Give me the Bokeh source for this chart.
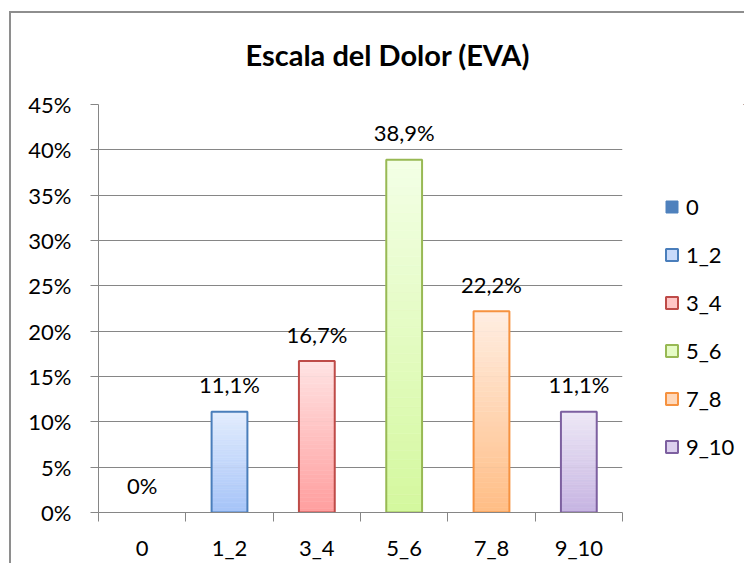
from bokeh.plotting import figure
from bokeh.layouts import row
from bokeh.models import (FixedTicker, NumeralTickFormatter, Legend, LegendItem, Range1d)
from bokeh.embed import file_html
from bokeh.resources import INLINE
from bokeh.core.properties import value

# ---- data ----
title = "Escala del Dolor (EVA)"
categories = ["0", "1_2", "3_4", "5_6", "7_8", "9_10"]
values = [0.0, 0.111, 0.167, 0.389, 0.222, 0.111]
y_ticks = [0.0, 0.05, 0.10, 0.15, 0.20, 0.25, 0.30, 0.35, 0.40, 0.45]

# ---- styles ----
FONT = "Lato"
GREY = "#868686"
border_colors = ["#4F81BD", "#4A7EBB", "#BE4B48", "#98B954", "#F69240", "#7D60A0"]
top_colors = ["#4F81BD", "#E3EDFD", "#FFE3E3", "#F3FFE6", "#FFEEE2", "#EEE8F6"]
bottom_colors = ["#4F81BD", "#A5C3F8", "#FF9E9E", "#D4F89E", "#FFBD85", "#C6B4E2"]
legend_fill = ["#4F81BD", "#C9DBFB", "#FFC6C6", "#E6FCC6", "#FFD8BA", "#DCD0EE"]
BAR_W = 0.41
FS = "22px"
FRAME_LINE = "#8E8E8E"


def hex2rgb(h):
    h = h.lstrip("#")
    return tuple(int(h[i:i + 2], 16) for i in (0, 2, 4))


def mix(c1, c2, t):
    a, b = hex2rgb(c1), hex2rgb(c2)
    return "#%02x%02x%02x" % tuple(round(a[i] + (b[i] - a[i]) * t) for i in range(3))


n_cat = len(categories)
centers = [i + 0.5 for i in range(n_cat)]

P_W, H = 626, 563
p = figure(width=P_W, height=H, x_range=Range1d(0, n_cat), y_range=Range1d(0, 0.45),
           output_backend="svg", toolbar_location=None,
           min_border_left=98, min_border_right=4, min_border_top=104, min_border_bottom=50)
p.styles = {"background": f"linear-gradient({FRAME_LINE},{FRAME_LINE}) 9px 11px / 2px 100% no-repeat, "
                          f"linear-gradient({FRAME_LINE},{FRAME_LINE}) 9px 11px / 100% 2px no-repeat, white"}
p.outline_line_color = None
p.background_fill_color = "white"
p.border_fill_alpha = 0

# title
p.title.text = title
p.title.align = "left"
p.title.offset = 147
p.title.standoff = 66
p.title.text_font = FONT
p.title.text_font_style = "bold"
p.title.text_font_size = "29px"
p.title.text_color = "black"

# gradient bars (strips)
N = 40
xs, bots, tops, cols = [], [], [], []
for i, v in enumerate(values):
    if v <= 0:
        continue
    for k in range(N):
        t = (k + 0.5) / N
        xs.append(centers[i])
        bots.append(v * k / N)
        tops.append(v * (k + 1) / N)
        cols.append(mix(bottom_colors[i], top_colors[i], t))
p.vbar(x=xs, bottom=bots, top=tops, width=BAR_W, fill_color=cols, line_color=cols, line_width=0.6)

# outlines
p.vbar(x=centers, top=values, width=BAR_W, fill_color=None, line_color=border_colors,
       line_width=2, line_alpha=[1 if v > 0 else 0 for v in values])

# data labels
labels = [("%.1f%%" % (v * 100)).replace(".", ",") if v > 0 else "0%" for v in values]
p.text(x=centers, y=values, text=labels, text_align="center", text_baseline="middle",
       y_offset=-27, text_font=value(FONT), text_font_size=FS, text_color="black")

# axes
p.xaxis.ticker = FixedTicker(ticks=centers, minor_ticks=list(range(n_cat + 1)))
p.xaxis.major_label_overrides = {c: lab for c, lab in zip(centers, categories)}
p.xaxis.major_tick_out = 0
p.xaxis.major_tick_in = 0
p.xaxis.minor_tick_out = 9
p.xaxis.minor_tick_in = 0
p.xaxis.minor_tick_line_color = GREY
p.xaxis.axis_line_color = GREY
p.xaxis.major_label_standoff = 12
p.xaxis.major_label_text_font = FONT
p.xaxis.major_label_text_font_size = FS
p.xaxis.major_label_text_color = "black"

p.yaxis.ticker = FixedTicker(ticks=y_ticks)
p.yaxis.formatter = NumeralTickFormatter(format="0%")
p.yaxis.major_tick_out = 8
p.yaxis.major_tick_in = 0
p.yaxis.minor_tick_line_color = None
p.yaxis.major_tick_line_color = GREY
p.yaxis.axis_line_color = GREY
p.yaxis.major_label_standoff = 19
p.yaxis.major_label_text_font = FONT
p.yaxis.major_label_text_font_size = FS
p.yaxis.major_label_text_color = "black"

p.xgrid.visible = False
p.ygrid.ticker = FixedTicker(ticks=y_ticks)
p.ygrid.grid_line_color = GREY

# legend panel (separate figure to the right); its ranges keep the swatch renderers out of view
q = figure(width=744 - P_W, height=H, x_range=Range1d(-20, -10), y_range=Range1d(-20, -10),
           output_backend="svg", toolbar_location=None,
           min_border_left=0, min_border_right=0, min_border_top=0, min_border_bottom=0)
q.styles = {"background": f"linear-gradient({FRAME_LINE},{FRAME_LINE}) 0px 11px / 100% 2px no-repeat, white"}
q.axis.visible = False
q.grid.visible = False
q.outline_line_color = None
q.background_fill_alpha = 0
q.border_fill_alpha = 0

items = []
for i, c in enumerate(categories):
    r = q.vbar(x=[centers[i]], top=[values[i]], width=BAR_W, fill_color=legend_fill[i],
               line_color=border_colors[i], line_width=2 if i > 0 else 1)
    items.append(LegendItem(label=c, renderers=[r]))
legend = Legend(items=items, location=(38, 52), glyph_width=15, glyph_height=15,
                label_standoff=7, spacing=21, label_height=22, padding=0, margin=0,
                border_line_color=None, background_fill_alpha=0,
                label_text_font=FONT, label_text_font_size=FS, label_text_color="black")
q.add_layout(legend)

layout = row(p, q, spacing=0)
open("out.html", "w").write(file_html(layout, INLINE))
